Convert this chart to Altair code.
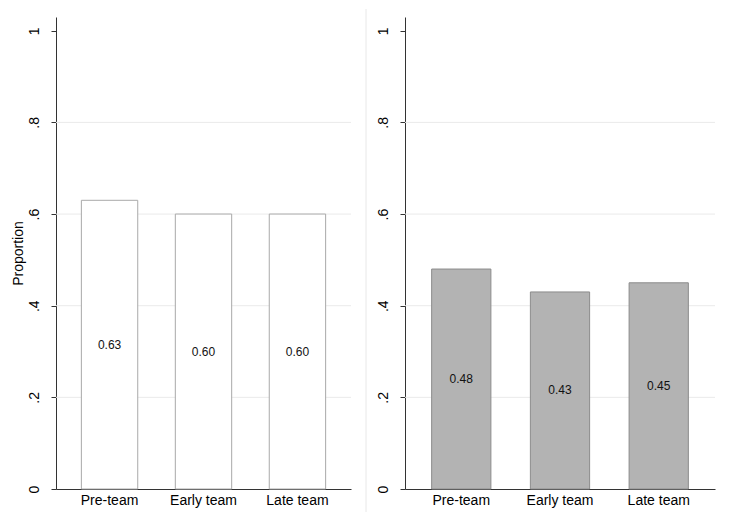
import altair as alt
import pandas as pd

categories = ["Pre-team", "Early team", "Late team"]
left_values = [0.63, 0.60, 0.60]
right_values = [0.48, 0.43, 0.45]
y_ticks = [0, 0.2, 0.4, 0.6, 0.8, 1]
grid_values = [0.2, 0.4, 0.6, 0.8]

FONT = "Liberation Sans"
LABEL_EXPR = "datum.value == 0 ? '0' : datum.value == 1 ? '1' : '.' + round(datum.value * 10)"


def panel(values, fill, stroke, width, ytitle, separator):
    df = pd.DataFrame({"cat": categories, "value": values})
    df["mid"] = df["value"] / 2
    df["label"] = [f"{v:.2f}" for v in values]

    xscale = alt.Scale(paddingInner=0.4, paddingOuter=0.27)
    xaxis = alt.Axis(title=None, labelAngle=0, ticks=False, tickSize=0, labelPadding=4,
                     labelFontSize=14, labelColor="#000000", labelFont=FONT,
                     domainColor="#333333", grid=False)
    yscale = alt.Scale(domain=[0, 1.03], nice=False, zero=True)
    axis_kw = dict(values=y_ticks, labelExpr=LABEL_EXPR, labelAngle=-90, tickSize=5,
                   tickColor="#333333", domainColor="#333333", labelPadding=10,
                   labelFontSize=14, labelColor="#000000", labelFont=FONT, grid=False,
                   titleFont=FONT, titleFontSize=14, titleFontWeight="normal",
                   titleColor="#000000", titlePadding=2)
    if ytitle:
        yaxis = alt.Axis(title=ytitle, **axis_kw)
    else:
        yaxis = alt.Axis(title=None, **axis_kw)

    grid = alt.Chart(pd.DataFrame({"g": grid_values})).mark_rule(
        color="#eaeaea", strokeWidth=1
    ).encode(y=alt.Y("g:Q", scale=yscale, axis=yaxis))

    bars = alt.Chart(df).mark_bar(fill=fill, stroke=stroke, strokeWidth=1).encode(
        x=alt.X("cat:N", sort=categories, scale=xscale, axis=xaxis),
        y=alt.Y("value:Q", scale=yscale, axis=yaxis),
    )
    text = alt.Chart(df).mark_text(font=FONT, fontSize=12, color="#111111",
                                   baseline="middle", align="center").encode(
        x=alt.X("cat:N", sort=categories, scale=xscale, axis=xaxis),
        y=alt.Y("mid:Q", scale=yscale, axis=yaxis),
        text="label:N",
    )
    layers = [grid, bars, text]
    if separator:
        sep = alt.Chart(pd.DataFrame({"d": [0]})).mark_rule(
            color="#e8e8e8", strokeWidth=1, clip=False
        ).encode(x=alt.value(310), y=alt.value(-8), y2=alt.value(495))
        layers.append(sep)
    return alt.layer(*layers).properties(width=width, height=472)


left = panel(left_values, "#ffffff", "#a9a9a9", 295, "Proportion", True)
right = panel(right_values, "#b3b3b3", "#8c8c8c", 310, None, False)

chart = alt.hconcat(left, right, spacing=9).configure_view(stroke=None).properties(
    padding={"left": 3, "top": 0, "right": 5, "bottom": 0},
    background="white",
)

chart.save("out.html", embed_options={"renderer": "svg", "actions": False})
